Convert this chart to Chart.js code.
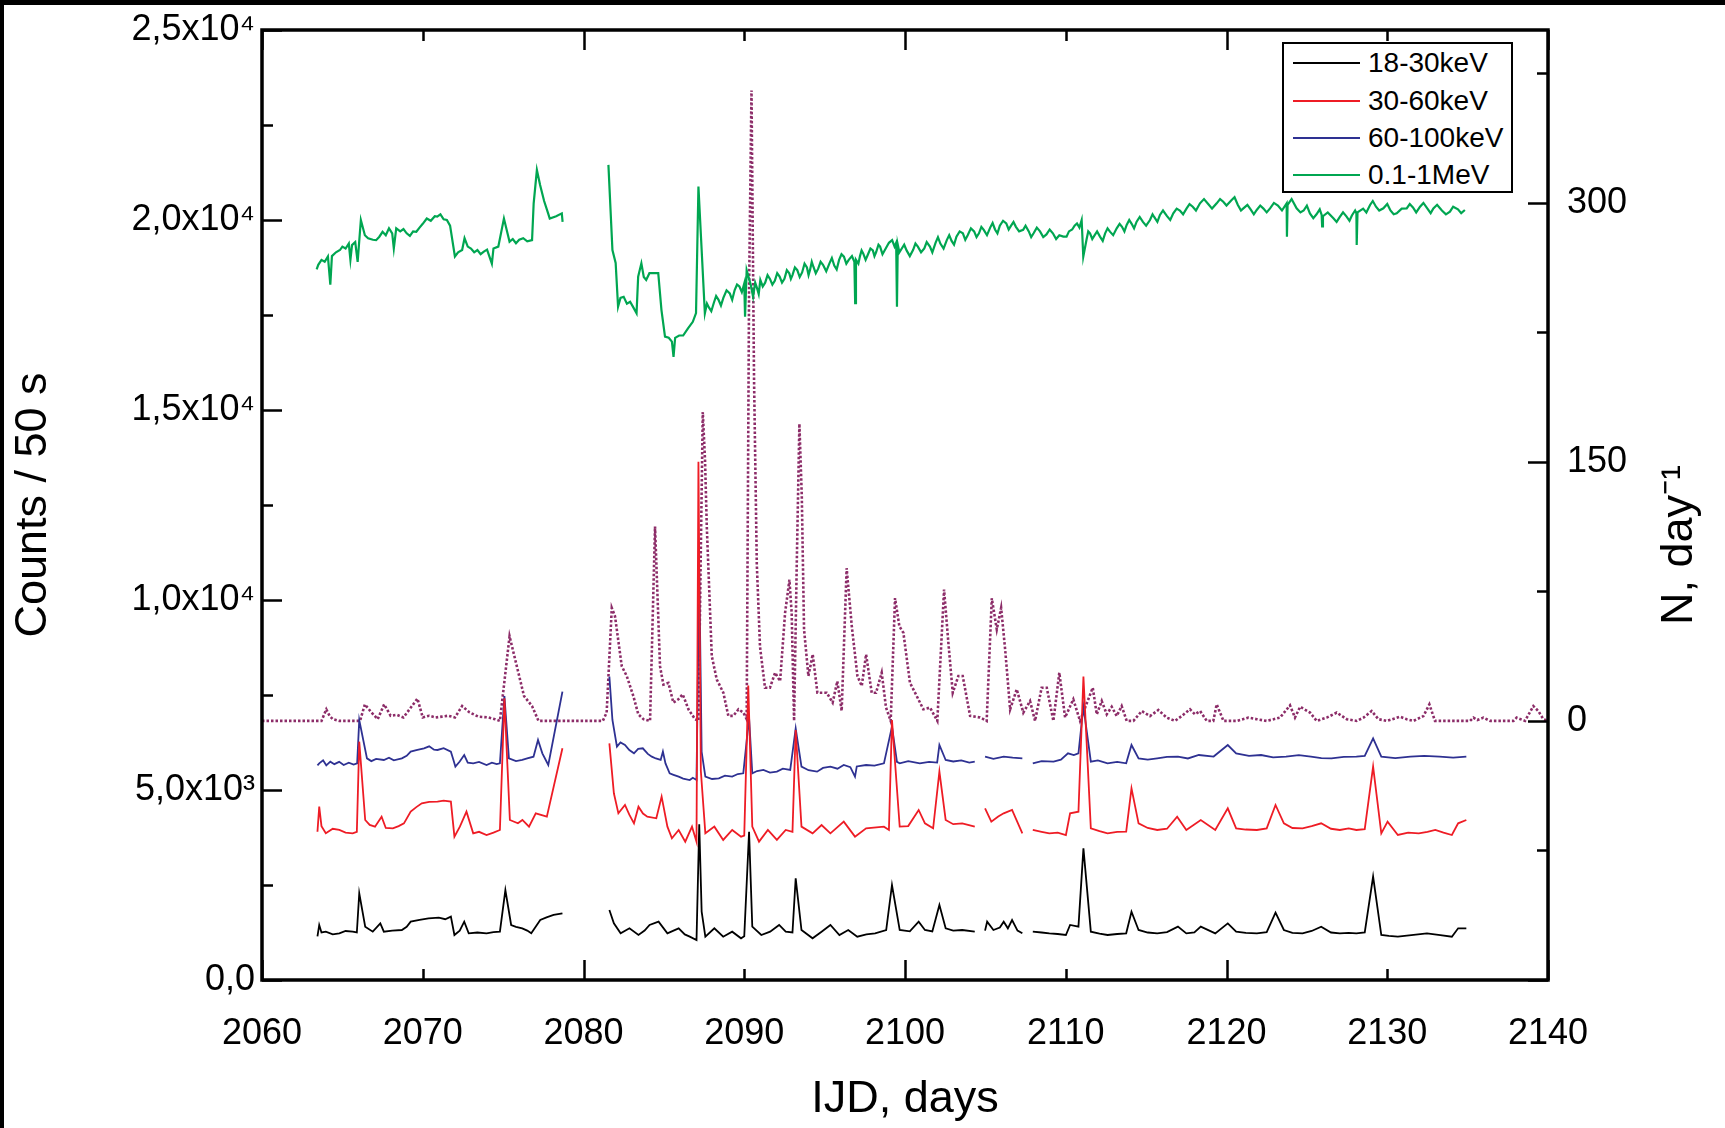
<!DOCTYPE html>
<html>
<head>
<meta charset="utf-8">
<title>IJD light curves</title>
<script src="https://cdn.jsdelivr.net/npm/chart.js@4.4.0/dist/chart.umd.min.js"></script>
<style>
    html, body { margin: 0; padding: 0; background: #fff; }
    #wrap { position: relative; width: 1725px; height: 1128px; }
    #leg {
        position: absolute; left: 1282px; top: 42px;
        width: 227px; height: 147px;
        border: 2px solid #000; background: #fff;
        font-family: "Liberation Sans", Arial, Helvetica, sans-serif;
        font-size: 28px; color: #000;
    }
    #leg .row { position: absolute; left: 0; height: 28px; line-height: 28px; }
    #leg .ln { position: absolute; left: 9px; top: 13px; width: 67px; height: 2px; }
    #leg .tx { position: absolute; left: 84px; top: 0; white-space: nowrap; }
</style>
</head>
<body>
<div id="wrap">
    <canvas id="chart" width="1725" height="1128"></canvas>
    <div id="leg"></div>
</div>
<script>
// ---- data ----
var seriesNames = ["18-30keV", "30-60keV", "60-100keV", "0.1-1MeV"];
var seriesColors = ["#000000", "#ee1c25", "#2e3192", "#00a651"];
var rateColor = "#8c2c68";

var xTicks = [2060, 2070, 2080, 2090, 2100, 2110, 2120, 2130, 2140];
var leftTickValues = [0, 5000, 10000, 15000, 20000, 25000];
var leftTickLabels = ["0,0", "5,0x10\u00B3", "1,0x10\u2074", "1,5x10\u2074", "2,0x10\u2074", "2,5x10\u2074"];
var rightTickValues = [0, 150, 300];

// 18-30 keV
var softDays = [2063.45, 2063.56, 2063.7, 2063.97, 2064.4, 2064.81, 2065.2, 2065.64, 2065.9, 2066.05, 2066.42, 2066.89, 2067.36, 2067.58, 2068.1, 2068.7, 2069.0, 2069.25, 2069.8, 2070.36, 2071.0, 2071.4, 2071.75, 2071.97, 2072.3, 2072.58, 2072.86, 2073.4, 2073.97, 2074.4, 2074.8, 2075.14, 2075.5, 2075.8, 2076.19, 2076.5, 2076.75, 2077.31, 2077.7, 2078.14, 2078.69,
    2080,
    2081.61, 2081.89, 2082.31, 2082.86, 2083.42, 2083.8, 2084.11, 2084.67, 2085.22, 2085.6, 2085.92, 2086.3, 2086.61, 2087.03, 2087.2, 2087.35, 2087.58, 2088.14, 2088.69, 2089.25, 2089.8, 2090.0, 2090.3, 2090.5, 2091.06, 2091.61, 2092.17, 2092.58, 2093.0, 2093.2, 2093.56, 2094.25, 2094.81, 2095.36, 2095.92, 2096.47, 2097.03, 2097.6, 2098.14, 2098.83, 2099.19, 2099.67, 2100.3, 2100.85, 2101.24, 2101.7, 2102.14, 2102.53, 2103.0, 2103.56, 2104.34,
    2104.6,
    2104.98, 2105.11, 2105.5, 2105.9, 2106.14, 2106.4, 2106.66, 2107.0, 2107.3,
    2107.6,
    2107.95, 2108.5, 2108.98, 2109.5, 2110.01, 2110.27, 2110.79, 2111.1, 2111.56, 2112.1, 2112.6, 2113.2, 2113.76, 2114.09, 2114.53, 2115.1, 2115.69, 2116.3, 2116.98, 2117.5, 2118.0, 2118.4, 2119.3, 2120.08, 2120.6, 2121.2, 2121.89, 2122.5, 2123.05, 2123.57, 2124.1, 2124.73, 2125.3, 2125.89, 2126.5, 2127.05, 2127.6, 2128.08, 2128.6, 2129.12, 2129.63, 2130.1, 2130.66, 2131.5, 2132.47, 2133.3, 2134.02, 2134.41, 2134.92];
var softCounts = [1150, 1448, 1250, 1272, 1200, 1228, 1290, 1272, 1250, 2281, 1404, 1272, 1491, 1272, 1300, 1316, 1400, 1535, 1580, 1623, 1640, 1600, 1667, 1184, 1300, 1535, 1228, 1250, 1228, 1260, 1272, 2368, 1448, 1400, 1360, 1300, 1228, 1579, 1650, 1711, 1755,
    null,
    1842, 1491, 1228, 1360, 1184, 1300, 1448, 1535, 1228, 1300, 1360, 1200, 1140, 1053, 4100, 1800, 1140, 1360, 1140, 1272, 1097, 1150, 3900, 1404, 1184, 1272, 1448, 1272, 1250, 2676, 1316, 1097, 1272, 1448, 1184, 1316, 1140, 1200, 1228, 1316, 2500, 1316, 1280, 1535, 1316, 1280, 1974, 1360, 1300, 1316, 1272,
    null,
    1300, 1535, 1316, 1380, 1535, 1360, 1579, 1300, 1228,
    null,
    1272, 1250, 1228, 1210, 1184, 1448, 1404, 3465, 1272, 1220, 1184, 1210, 1228, 1798, 1316, 1250, 1228, 1260, 1404, 1228, 1250, 1404, 1228, 1491, 1272, 1240, 1228, 1260, 1772, 1316, 1240, 1228, 1290, 1404, 1250, 1228, 1240, 1228, 1250, 2720, 1184, 1160, 1140, 1180, 1228, 1180, 1140, 1360, 1360];

// 30-60 keV
var midDays = [2063.45, 2063.56, 2063.7, 2063.97, 2064.4, 2064.81, 2065.2, 2065.64, 2065.9, 2066.05, 2066.42, 2066.7, 2067.03, 2067.44, 2067.7, 2068.14, 2068.5, 2068.83, 2069.25, 2069.6, 2069.94, 2070.4, 2070.92, 2071.3, 2071.75, 2071.97, 2072.31, 2072.72, 2073.14, 2073.5, 2073.97, 2074.4, 2074.8, 2075.08, 2075.42, 2075.92, 2076.2, 2076.61, 2077.03, 2077.72, 2078.69,
    2080,
    2081.61, 2081.89, 2082.17, 2082.58, 2082.85, 2083.14, 2083.42, 2083.7, 2083.97, 2084.53, 2084.86, 2085.22, 2085.5, 2085.92, 2086.33, 2086.75, 2087.03, 2087.15, 2087.3, 2087.58, 2088.14, 2088.69, 2089.25, 2089.8, 2090.0, 2090.25, 2090.5, 2090.92, 2091.47, 2092.03, 2092.58, 2093.0, 2093.2, 2093.56, 2094.25, 2094.81, 2095.36, 2096.19, 2096.89, 2097.58, 2098.69, 2099.0, 2099.19, 2099.67, 2100.2, 2100.85, 2101.24, 2101.75, 2102.14, 2102.53, 2103.0, 2103.56, 2104.34,
    2104.6,
    2104.98, 2105.37, 2105.8, 2106.14, 2106.66, 2107.0, 2107.3,
    2107.6,
    2107.95, 2108.5, 2108.98, 2109.5, 2110.01, 2110.27, 2110.79, 2111.1, 2111.56, 2112.1, 2112.6, 2113.2, 2113.76, 2114.09, 2114.53, 2115.1, 2115.69, 2116.3, 2116.93, 2117.5, 2118.4, 2119.3, 2120.08, 2120.6, 2121.2, 2121.89, 2122.5, 2123.05, 2123.57, 2124.1, 2124.73, 2125.3, 2125.89, 2126.5, 2127.05, 2127.6, 2128.08, 2128.6, 2129.12, 2129.63, 2130.02, 2130.66, 2131.3, 2131.96, 2132.5, 2132.99, 2133.5, 2134.02, 2134.41, 2134.92];
var midCounts = [3900, 4562, 4050, 3860, 3980, 3948, 3880, 3860, 3900, 6272, 4211, 4080, 4036, 4299, 4000, 3992, 4050, 4123, 4430, 4550, 4649, 4690, 4693, 4720, 4693, 3772, 4036, 4430, 3860, 3900, 3816, 3880, 3948, 7412, 4211, 4123, 4211, 4036, 4386, 4299, 6097,
    null,
    6228, 4913, 4386, 4606, 4350, 4123, 4562, 4380, 4299, 4255, 4825, 4036, 3729, 3948, 3641, 4036, 3641, 13640, 5500, 3860, 4036, 3685, 3948, 3772, 3800, 7750, 4036, 3641, 3948, 3685, 3948, 3900, 6579, 4036, 3860, 4079, 3860, 4167, 3772, 3992, 4036, 3950, 6842, 4036, 4050, 4474, 4123, 3992, 5483, 4211, 4100, 4123, 4036,
    null,
    4518, 4167, 4300, 4386, 4474, 4150, 3860,
    null,
    3948, 3900, 3860, 3880, 3816, 4386, 4430, 7983, 3992, 3920, 3860, 3900, 3904, 5044, 4123, 4000, 3948, 3980, 4299, 3948, 4211, 3948, 4518, 3992, 3960, 3948, 3990, 4606, 4123, 4000, 3992, 4050, 4123, 3980, 3948, 3990, 3948, 3970, 5614, 3860, 4167, 3816, 3880, 3860, 3900, 3948, 3880, 3816, 4123, 4211];

// 60-100 keV
var hardDays = [2063.45, 2063.56, 2063.8, 2064.0, 2064.25, 2064.5, 2064.8, 2065.08, 2065.4, 2065.7, 2065.92, 2066.05, 2066.53, 2066.8, 2067.1, 2067.58, 2067.9, 2068.2, 2068.7, 2069.0, 2069.25, 2069.6, 2070.08, 2070.4, 2070.7, 2070.92, 2071.3, 2071.75, 2071.9, 2072.03, 2072.3, 2072.58, 2072.8, 2073.14, 2073.5, 2073.97, 2074.3, 2074.6, 2074.8, 2075.08, 2075.36, 2075.8, 2076.19, 2076.5, 2076.89, 2077.17, 2077.44, 2077.81, 2078.69,
    2080,
    2081.61, 2081.8, 2082.08, 2082.3, 2082.58, 2082.85, 2083.14, 2083.4, 2083.69, 2084.0, 2084.25, 2084.5, 2084.8, 2084.94, 2085.1, 2085.36, 2085.6, 2085.92, 2086.2, 2086.61, 2086.8, 2087.03, 2087.2, 2087.35, 2087.58, 2088.0, 2088.42, 2088.8, 2089.25, 2089.6, 2089.94, 2090.3, 2090.5, 2090.8, 2091.19, 2091.6, 2092.03, 2092.4, 2092.86, 2093.2, 2093.56, 2094.0, 2094.53, 2094.9, 2095.36, 2095.8, 2096.19, 2096.6, 2096.89, 2097.0, 2097.58, 2098.1, 2098.69, 2099.19, 2099.5, 2099.67, 2100.2, 2100.92, 2101.5, 2102.0, 2102.14, 2102.53, 2103.0, 2103.5, 2104.0, 2104.34,
    2104.6,
    2104.98, 2105.5, 2106.14, 2106.7, 2107.3,
    2107.6,
    2107.95, 2108.5, 2109.24, 2109.7, 2110.14, 2110.5, 2110.79, 2111.1, 2111.56, 2112.0, 2112.6, 2113.2, 2113.76, 2114.09, 2114.53, 2115.1, 2115.69, 2116.3, 2116.98, 2117.6, 2118.28, 2119.2, 2120.08, 2120.6, 2121.4, 2122.15, 2122.9, 2123.7, 2124.5, 2125.25, 2125.9, 2126.53, 2127.3, 2128.08, 2128.6, 2129.12, 2129.63, 2130.5, 2131.44, 2132.3, 2133.25, 2134.1, 2134.92];
var hardCounts = [5650, 5702, 5780, 5650, 5746, 5680, 5740, 5658, 5720, 5670, 5702, 6842, 5833, 5760, 5820, 5790, 5850, 5780, 5833, 5900, 6009, 6050, 6097, 6150, 6060, 6053, 6100, 6009, 5800, 5614, 5750, 5921, 5720, 5702, 5740, 5658, 5720, 5680, 5702, 7474, 5833, 5760, 5790, 5830, 5877, 6316, 5965, 5658, 7588,
    null,
    7983, 6842, 6140, 6250, 6184, 6050, 5965, 6080, 6097, 5950, 5877, 5830, 5790, 6009, 5700, 5439, 5400, 5351, 5300, 5263, 5320, 5263, 10800, 6000, 5351, 5290, 5307, 5380, 5351, 5420, 5439, 6900, 5439, 5500, 5527, 5460, 5483, 5560, 5527, 6623, 5614, 5520, 5483, 5580, 5614, 5560, 5658, 5600, 5351, 5620, 5658, 5640, 5702, 6667, 5740, 5702, 5760, 5702, 5740, 5720, 6184, 5790, 5750, 5780, 5720, 5746,
    null,
    5877, 5820, 5877, 5850, 5833,
    null,
    5702, 5760, 5746, 5800, 5965, 5920, 5965, 7193, 5746, 5780, 5702, 5740, 5702, 6184, 5833, 5800, 5833, 5870, 5877, 5830, 5921, 5880, 6184, 5965, 5900, 5921, 5860, 5877, 5920, 5877, 5840, 5833, 5870, 5877, 5900, 6360, 5877, 5840, 5877, 5900, 5877, 5850, 5877];

// 0.1-1 MeV
var mevDays = [2063.4, 2063.5, 2063.7, 2063.9, 2064.1, 2064.25, 2064.35, 2064.6, 2064.85, 2065.0, 2065.2, 2065.4, 2065.5, 2065.6, 2065.8, 2065.95, 2066.05, 2066.15, 2066.4, 2066.6, 2066.9, 2067.1, 2067.3, 2067.5, 2067.7, 2067.9, 2068.1, 2068.2, 2068.35, 2068.6, 2068.8, 2069.0, 2069.2, 2069.4, 2069.6, 2069.8, 2070.0, 2070.25, 2070.5, 2070.75, 2070.9, 2071.1, 2071.3, 2071.5, 2071.7, 2072.0, 2072.2, 2072.45, 2072.6, 2072.8, 2073.0, 2073.2, 2073.4, 2073.6, 2073.8, 2074.0, 2074.3, 2074.4, 2074.7, 2075.05, 2075.4, 2075.6, 2075.8, 2076.0, 2076.25, 2076.5, 2076.8, 2076.9, 2077.1, 2077.3, 2077.55, 2077.8, 2077.9, 2078.3, 2078.65, 2078.7,
    2080,
    2081.55, 2081.8, 2082.0, 2082.15, 2082.3, 2082.5, 2082.7, 2082.9, 2083.1, 2083.3, 2083.4, 2083.6, 2083.75, 2083.9, 2084.1, 2084.4, 2084.65, 2084.85, 2085.07, 2085.3, 2085.5, 2085.6, 2085.7, 2085.95, 2086.2, 2086.5, 2086.8, 2087.0, 2087.15,
    2087.55, 2087.68, 2087.8, 2087.95, 2088.1, 2088.25, 2088.4, 2088.55, 2088.7, 2088.9, 2089.1, 2089.25, 2089.4, 2089.55, 2089.7, 2089.85, 2090.0, 2090.05, 2090.15, 2090.4, 2090.55, 2090.68, 2090.8, 2090.9, 2091.0, 2091.15, 2091.3, 2091.45, 2091.6, 2091.75, 2091.9, 2092.05, 2092.2, 2092.35, 2092.5, 2092.65, 2092.8, 2092.9, 2093.0, 2093.15, 2093.3, 2093.45, 2093.6, 2093.75, 2093.9, 2094.0, 2094.1, 2094.2, 2094.3, 2094.45, 2094.6, 2094.75, 2094.9, 2095.1, 2095.3, 2095.45, 2095.6, 2095.75, 2095.9, 2096.05, 2096.2, 2096.35, 2096.5, 2096.7, 2096.85, 2096.9, 2096.95, 2097.1, 2097.2, 2097.3, 2097.4, 2097.55, 2097.7, 2097.85, 2098.0, 2098.1, 2098.2, 2098.35, 2098.45, 2098.6, 2098.8, 2099.0, 2099.2, 2099.35, 2099.45, 2099.5, 2099.55, 2099.65, 2099.8, 2099.95,
    2100.1, 2100.3, 2100.5, 2100.65, 2100.8, 2101.0, 2101.2, 2101.35, 2101.55, 2101.7, 2101.9, 2102.05, 2102.2, 2102.4, 2102.6, 2102.75, 2102.9, 2103.05, 2103.2, 2103.4, 2103.6, 2103.75, 2103.9, 2104.1, 2104.3, 2104.45, 2104.6, 2104.75, 2104.9, 2105.1, 2105.3, 2105.45, 2105.6, 2105.75, 2105.9, 2106.1, 2106.3, 2106.45, 2106.6, 2106.75, 2106.9, 2107.1, 2107.35, 2107.5, 2107.7, 2107.85, 2108.0, 2108.2, 2108.4, 2108.6, 2108.8, 2109.0, 2109.2, 2109.4, 2109.6, 2109.85,
    2110.05, 2110.2, 2110.4, 2110.55, 2110.7, 2110.85, 2110.99, 2111.09, 2111.3, 2111.4, 2111.51, 2111.65, 2111.8, 2111.95, 2112.13, 2112.3, 2112.45, 2112.6, 2112.75, 2112.95, 2113.17, 2113.35, 2113.5, 2113.65, 2113.79, 2113.95, 2114.1, 2114.25, 2114.41, 2114.6, 2114.8, 2115.0, 2115.24, 2115.4, 2115.5, 2115.7, 2115.86, 2116.05, 2116.3, 2116.5, 2116.69, 2116.9, 2117.1, 2117.3, 2117.52, 2117.7, 2117.9, 2118.1, 2118.35, 2118.6, 2118.9, 2119.1, 2119.39, 2119.6, 2119.8, 2120.0,
    2120.32, 2120.5, 2120.7, 2120.9, 2121.05, 2121.3, 2121.5, 2121.7, 2121.88, 2122.1, 2122.3, 2122.5, 2122.71, 2122.95, 2123.2, 2123.45, 2123.74, 2123.76, 2123.8, 2124.05, 2124.36, 2124.6, 2124.8, 2125.0, 2125.19, 2125.4, 2125.6, 2125.8, 2125.92, 2125.95, 2126.0, 2126.3, 2126.65, 2126.85, 2127.05, 2127.25, 2127.47, 2127.65, 2127.8, 2128.0, 2128.08, 2128.1, 2128.15, 2128.5, 2128.7, 2128.93, 2129.1, 2129.3, 2129.5, 2129.76,
    2130.0, 2130.2, 2130.4, 2130.59, 2130.9, 2131.21, 2131.4, 2131.6, 2131.8, 2132.04, 2132.25, 2132.5, 2132.7, 2132.87, 2133.1, 2133.4, 2133.65, 2133.9, 2134.1, 2134.4, 2134.6, 2134.83];
var mevCounts = [18700, 18820, 18950, 18900, 19040, 18300, 19050, 19150, 19210, 19300, 19250, 19380, 18950, 19340, 19420, 18900, 19450, 20000, 19600, 19520, 19480, 19470, 19560, 19690, 19600, 19780, 19650, 19250, 19780, 19700, 19760, 19650, 19580, 19700, 19690, 19800, 19900, 20040, 19980, 20100, 20090, 20150, 20020, 20000, 19850, 19040, 19150, 19210, 19520, 19300, 19250, 19150, 19210, 19100, 19170, 19220, 18850, 19250, 19300, 20040, 19430, 19500, 19390, 19480, 19520, 19440, 19470, 20440, 21315, 20920, 20500, 20175, 20040, 20100, 20175, 19950,
    null,
    21450, 19210, 18870, 17720, 17950, 17980, 17800, 17850, 17700, 17545, 18510, 18860, 18500, 18420, 18600, 18600, 18600, 17630, 16930, 16900, 16800, 16400, 16900, 16960, 16960, 17150, 17320, 17550, 20880,
    17545, 17800, 17700, 17600, 17810, 18000, 17900, 17750, 17950, 18150, 18070, 17900, 18150, 18300, 18250, 18100, 18330, 17455, 18680, 18300, 17980, 18350, 18200, 18050, 18420, 18250, 18350, 18550, 18450, 18300, 18400, 18600, 18510, 18350, 18450, 18680, 18600, 18450, 18550, 18750, 18680, 18500, 18620, 18850, 18750, 18550, 18700, 18900, 18770, 18600, 18720, 18900, 18820, 18650, 18860, 19000, 18800, 18700, 18950, 19100, 19035, 18850, 18950, 19050, 18900, 17810, 18950, 18850, 19050, 19200, 19120, 18950, 19100, 19250, 19200, 19050, 19150, 19350, 19300, 19100, 19250, 19400, 19470, 19300, 19400, 17720, 19350, 19150, 19250, 19350,
    19200, 19050, 19210, 19380, 19300, 19150, 19250, 19420, 19300, 19150, 19400, 19550, 19380, 19250, 19470, 19600, 19450, 19350, 19560, 19700, 19650, 19480, 19600, 19780, 19700, 19550, 19650, 19820, 19740, 19600, 19800, 19920, 19750, 19650, 19850, 19980, 19910, 19750, 19850, 19950, 19820, 19700, 19740, 19850, 19700, 19550, 19650, 19800, 19700, 19550, 19620, 19750, 19650, 19500, 19600, 19562,
    19560, 19700, 19750, 19850, 19910, 19800, 20000, 19035, 19500, 19700, 19650, 19500, 19600, 19700, 19562, 19450, 19650, 19780, 19693, 19600, 19781, 19900, 19820, 19700, 19869, 20000, 19900, 19780, 19956, 20080, 19950, 19850, 20000, 20150, 20080, 19950, 20132, 20250, 20100, 20000, 20175, 20300, 20250, 20150, 20307, 20420, 20350, 20250, 20439, 20550, 20400, 20300, 20439, 20550, 20480, 20380,
    20526, 20600, 20400, 20250, 20307, 20400, 20280, 20150, 20263, 20380, 20300, 20200, 20307, 20450, 20380, 20250, 20439, 19562, 20400, 20550, 20307, 20200, 20250, 20380, 20175, 20050, 20150, 20280, 20132, 19830, 20100, 20200, 20044, 19950, 20080, 20200, 20088, 19980, 20120, 20250, 20175, 19342, 20200, 20300, 20200, 20395, 20500, 20350, 20250, 20307,
    20420, 20250, 20150, 20175, 20300, 20307, 20420, 20330, 20200, 20351, 20450, 20300, 20180, 20307, 20400, 20250, 20150, 20219, 20350, 20280, 20180, 20263];

// event rate, N per day (right axis, dotted)
var rateDays = [2060, 2063.7, 2064.0, 2064.2, 2064.4, 2064.8, 2066.1, 2066.4, 2066.8, 2067.2, 2067.6, 2068.0, 2068.4, 2068.8, 2069.67, 2070.0, 2070.4, 2070.8, 2071.2, 2071.6, 2072.0, 2072.45, 2072.9, 2073.45, 2074.1, 2074.5, 2074.8, 2075.4, 2075.9, 2076.3, 2076.8, 2077.2, 2081.2, 2081.44, 2081.76, 2081.96, 2082.38, 2082.69, 2083.1, 2083.41, 2083.73, 2084.14, 2084.45, 2084.76, 2084.97, 2085.28, 2085.59, 2085.9, 2086.17, 2086.53, 2086.94, 2087.15, 2087.42, 2087.56, 2087.67, 2087.98, 2088.29, 2088.7, 2089.01, 2089.32, 2089.64, 2089.95, 2090.15, 2090.3, 2090.45, 2090.61, 2090.78, 2090.98, 2091.29, 2091.6, 2091.92, 2092.23, 2092.54, 2092.81, 2092.95, 2093.1, 2093.26, 2093.43, 2093.58, 2093.72, 2093.99, 2094.26, 2094.55, 2095.13, 2095.5, 2095.79, 2096.06, 2096.37, 2096.69, 2097.04, 2097.31, 2097.58, 2097.93, 2098.2, 2098.55, 2098.82, 2099.11, 2099.38, 2099.65, 2099.9, 2100.31, 2100.73, 2101.14, 2101.56, 2102.01, 2102.43, 2102.7, 2102.97, 2103.32, 2103.59, 2104.05, 2104.67, 2105.08, 2105.4, 2105.71, 2105.98, 2106.23, 2106.54, 2106.95, 2107.36, 2107.78, 2108.09, 2108.5, 2108.82, 2109.23, 2109.6, 2109.96, 2110.47, 2110.89, 2111.3, 2111.68, 2111.93, 2112.24, 2112.55, 2112.86, 2113.17, 2113.48, 2113.79, 2114.21, 2114.73, 2115.24, 2115.76, 2116.28, 2116.8, 2117.21, 2117.73, 2118.04, 2118.36, 2118.77, 2119.18, 2119.39, 2119.81, 2120.64, 2121.36, 2121.88, 2122.5, 2123.33, 2123.95, 2124.26, 2124.58, 2125.2, 2125.61, 2126.23, 2126.86, 2127.48, 2128.1, 2128.52, 2129.03, 2129.45, 2129.97, 2130.8, 2131.21, 2131.63, 2132.25, 2132.62, 2132.97, 2135.15, 2135.36, 2135.6, 2135.98, 2136.4, 2137.85, 2138.05, 2138.57, 2139.09, 2139.4, 2139.71, 2140];
var rateValues = [0, 0, 6.7, 3, 1, 0, 0, 9.6, 5, 1, 9.6, 3, 3.5, 2, 12.9, 2, 3, 2, 2.5, 3, 2, 8.6, 5, 2.5, 2, 1, 0, 49, 29.8, 14.4, 8.6, 0, 0, 4.8, 65.4, 60.6, 31.7, 26, 14.4, 3.8, 1, 0, 112.5, 31.7, 21, 22, 10.6, 12.5, 15.4, 6.7, 1, 0, 178.8, 151, 112.5, 37.5, 24, 16.3, 2.9, 2.9, 6.7, 4.8, 1, 250, 365, 197, 91, 43, 19.2, 19.2, 27.9, 23, 62.5, 81.7, 62.5, 0, 87.5, 172, 130, 52.9, 26, 38.5, 16.3, 16.3, 10.6, 23, 5.8, 88.4, 54.8, 26, 20.2, 38.5, 16.3, 16.3, 27.9, 7.7, 0, 71.1, 54.8, 51, 22, 14.4, 6.7, 7.7, 0, 76, 45, 16.3, 26, 26, 2.9, 2, 0, 71, 52.9, 65.4, 41.4, 6.7, 18.3, 4.8, 11.5, 0, 19.2, 19.2, 0, 27.9, 2, 12.5, 0, 10, 19.2, 3.8, 11.5, 3.8, 8.2, 2.8, 8.6, 0, 0, 5.7, 2.8, 6.3, 1.9, 0, 2.8, 6.7, 3.8, 5.7, 0, 0, 9.6, 0, 0, 1.9, 1, 0, 1.9, 9, 1.9, 8.2, 4.8, 0, 1.9, 4.8, 1, 0, 1.9, 5.7, 1, 0, 2.4, 1, 0, 2.8, 9.6, 0, 0, 1.9, 0.5, 1.9, 0, 0, 1.9, 0, 8.6, 5.7, 1, 0];

// pair up the day / value arrays into points
function toPoints(days, vals) {
    var pts = [];
    for (var i = 0; i < days.length; i++) {
        pts.push({ x: days[i], y: vals[i] });
    }
    return pts;
}

var FONT = '"Liberation Sans", Arial, Helvetica, sans-serif';
Chart.defaults.font.family = FONT;
Chart.defaults.color = "#000";

// white page, black strips along top and left edge, as in the scan
var backdrop = {
    id: "backdrop",
    beforeDraw: function (chart) {
        var ctx = chart.ctx;
        ctx.save();
        ctx.fillStyle = "#fff";
        ctx.fillRect(0, 0, chart.width, chart.height);
        ctx.fillStyle = "#000";
        ctx.fillRect(0, 0, chart.width, 5);
        ctx.fillRect(0, 0, 4, chart.height);
        ctx.restore();
    }
};

// box round the plot, inward tick marks, right-hand title
var frame = {
    id: "frame",
    afterDraw: function (chart) {
        var ctx = chart.ctx,
            a = chart.chartArea,
            sx = chart.scales.x,
            sy = chart.scales.y,
            sr = chart.scales.y1;

        ctx.save();
        ctx.strokeStyle = "#000";
        ctx.lineWidth = 2.5;
        ctx.beginPath();
        sx.ticks.forEach(function (t) {
            var px = Math.round(sx.getPixelForValue(t.value)) + 0.5;
            var len = ((t.value - 2060) % 20 === 0) ? 20 : 11;
            ctx.moveTo(px, a.bottom); ctx.lineTo(px, a.bottom - len);
            ctx.moveTo(px, a.top); ctx.lineTo(px, a.top + len);
        });
        sy.ticks.forEach(function (t) {
            var py = Math.round(sy.getPixelForValue(t.value)) + 0.5;
            var len = (t.value % 5000 === 0) ? 20 : 11;
            ctx.moveTo(a.left, py); ctx.lineTo(a.left + len, py);
        });
        sr.ticks.forEach(function (t) {
            if (t.value % 75 !== 0) return;
            var py = Math.round(sr.getPixelForValue(t.value)) + 0.5;
            var len = (t.value % 150 === 0) ? 20 : 11;
            ctx.moveTo(a.right, py); ctx.lineTo(a.right - len, py);
        });
        ctx.stroke();

        ctx.lineWidth = 3.5;
        ctx.strokeRect(a.left, a.top, a.right - a.left, a.bottom - a.top);

        // right axis title reads bottom-to-top
        ctx.translate(1680, 545);
        ctx.rotate(-Math.PI / 2);
        ctx.fillStyle = "#000";
        ctx.font = "45px " + FONT;
        ctx.textAlign = "center";
        ctx.textBaseline = "middle";
        ctx.fillText("N, day\u207B\u00B9", 0, 0);
        ctx.restore();
    }
};

var datasets = [];
var countDays = [softDays, midDays, hardDays, mevDays];
var countVals = [softCounts, midCounts, hardCounts, mevCounts];
for (var i = 0; i < seriesNames.length; i++) {
    datasets.push({
        label: seriesNames[i],
        data: toPoints(countDays[i], countVals[i]),
        borderColor: seriesColors[i],
        borderWidth: i === 3 ? 2.2 : 1.8,
        pointRadius: 0,
        tension: 0,
        spanGaps: false,
        yAxisID: "y"
    });
}
datasets.push({
    label: "N, day-1",
    data: toPoints(rateDays, rateValues),
    borderColor: rateColor,
    borderWidth: 2.6,
    borderDash: [2.5, 2],
    pointRadius: 0,
    tension: 0,
    yAxisID: "y1"
});

new Chart(document.getElementById("chart"), {
    type: "line",
    data: { datasets: datasets },
    options: {
        responsive: false,
        animation: false,
        devicePixelRatio: 1,
        layout: { padding: { top: 30, left: 0, right: 0, bottom: 0 } },
        plugins: { legend: { display: false }, tooltip: { enabled: false } },
        scales: {
            x: {
                type: "linear", position: "bottom",
                min: xTicks[0], max: xTicks[xTicks.length - 1],
                afterFit: function (s) { s.height = 148; },
                grid: { display: false, drawTicks: false },
                border: { display: false },
                ticks: {
                    stepSize: 10, padding: 32, autoSkip: false, maxRotation: 0,
                    font: { size: 36 }, color: "#000",
                    callback: function (v) { return xTicks.indexOf(v) >= 0 ? String(v) : ""; }
                },
                title: { display: true, text: "IJD, days", font: { size: 45 }, color: "#000", padding: { top: 0, bottom: 1 } }
            },
            y: {
                position: "left", min: 0, max: 25000,
                afterFit: function (s) { s.width = 262; },
                grid: { display: false, drawTicks: false },
                border: { display: false },
                ticks: {
                    stepSize: 2500, padding: 7, autoSkip: false,
                    font: { size: 36 }, color: "#000",
                    callback: function (v) {
                        var k = leftTickValues.indexOf(v);
                        return k >= 0 ? leftTickLabels[k] : "";
                    }
                },
                title: { display: true, text: "Counts / 50 s", font: { size: 45 }, color: "#000", padding: { top: 7, bottom: 0 } }
            },
            y1: {
                position: "right", min: -150, max: 400,
                afterFit: function (s) { s.width = 177; },
                // invisible tick length pushes the labels out without adding top padding
                grid: { display: false, drawTicks: true, tickLength: 16 },
                border: { display: false },
                ticks: {
                    stepSize: 75, padding: 3, autoSkip: false,
                    font: { size: 36 }, color: "#000",
                    callback: function (v) { return rightTickValues.indexOf(v) >= 0 ? String(v) : ""; }
                }
            }
        }
    },
    plugins: [backdrop, frame]
});

// legend box (only the four count series)
var leg = document.getElementById("leg");
var rowTop = [5, 43, 80, 117];
for (var j = 0; j < seriesNames.length; j++) {
    var row = document.createElement("div");
    row.className = "row";
    row.style.top = rowTop[j] + "px";
    row.innerHTML = "<span class='ln' style='background:" + seriesColors[j] + "'></span>" +
        "<span class='tx'>" + seriesNames[j] + "</span>";
    leg.appendChild(row);
}
</script>
</body>
</html>
